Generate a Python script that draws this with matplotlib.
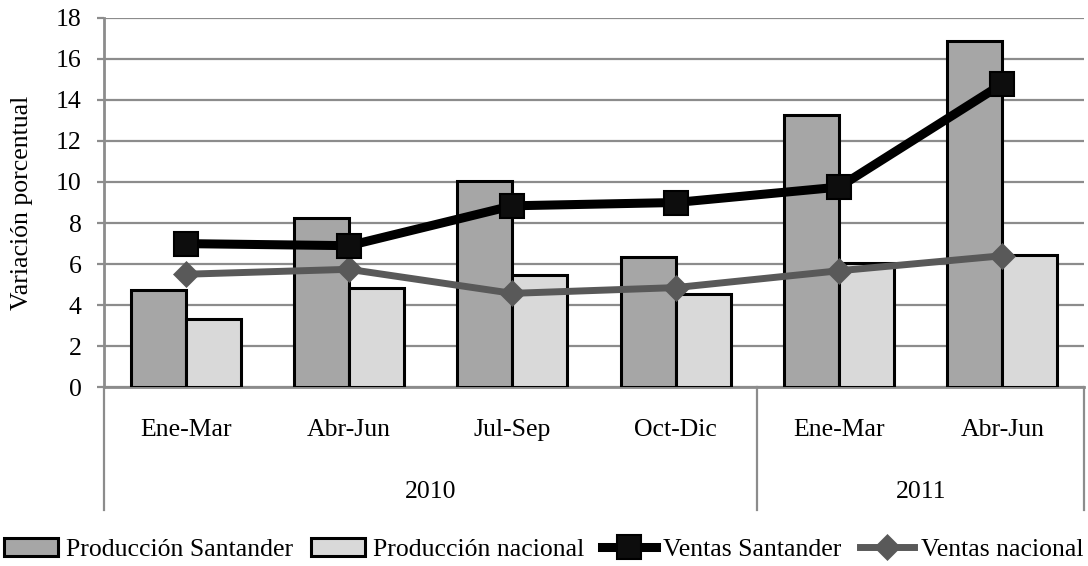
import numpy as np
import matplotlib
matplotlib.use("Agg")
import matplotlib.pyplot as plt
import matplotlib.transforms as mtransforms

# data
quarters = ["Ene-Mar", "Abr-Jun", "Jul-Sep", "Oct-Dic", "Ene-Mar", "Abr-Jun"]
years = ["2010", "2011"]
year_counts = [4, 2]
prod_santander = [4.75, 8.23, 10.05, 6.36, 13.26, 16.86]
prod_nacional = [3.32, 4.83, 5.47, 4.55, 6.07, 6.45]
ventas_santander = [7.0, 6.9, 8.84, 9.0, 9.75, 14.77]
ventas_nacional = [5.51, 5.75, 4.58, 4.86, 5.68, 6.41]

plt.rcParams['font.family'] = ['Liberation Serif', 'DejaVu Serif']
plt.rcParams['font.size'] = 18.5

grid_col = '#8c8c8c'

fig = plt.figure(figsize=(10.88, 5.66), dpi=100)
ax = fig.add_axes([0.0956, 0.3154, 0.9007, 0.6536])

x = np.arange(len(quarters))
w = 0.337
b1 = ax.bar(x - w / 2, prod_santander, w, color='#a6a6a6', edgecolor='black',
            linewidth=2.2, zorder=3, label='Producción Santander')
b2 = ax.bar(x + w / 2, prod_nacional, w, color='#d9d9d9', edgecolor='black',
            linewidth=2.2, zorder=3, label='Producción nacional')
l1, = ax.plot(x, ventas_santander, color='black', lw=6.5, marker='s', ms=17,
              markerfacecolor='#0d0d0d', markeredgecolor='black', mew=1.5,
              zorder=5, label='Ventas Santander')
l2, = ax.plot(x, ventas_nacional, color='#595959', lw=5, marker='D', ms=13.5,
              markerfacecolor='#595959', markeredgecolor='#595959', mew=0.5,
              zorder=4, label='Ventas nacional')

ax.set_xlim(-0.5, len(quarters) - 0.5)
ax.set_ylim(0, 18)
ax.set_yticks(np.arange(0, 19, 2))
ax.yaxis.grid(True, color=grid_col, lw=1.6, zorder=0)
ax.set_axisbelow(True)

for s in ['top', 'right']:
    ax.spines[s].set_visible(False)
for s in ['left', 'bottom']:
    ax.spines[s].set_color(grid_col)
    ax.spines[s].set_linewidth(2)
ax.tick_params(axis='y', length=5, width=1.6, color=grid_col, pad=11)
ax.tick_params(axis='x', length=0, labelbottom=False)

ax.set_ylabel('Variación porcentual', va='center')
ax.yaxis.set_label_coords(-0.0837, 0.5)

# multi-level category axis
trans = mtransforms.blended_transform_factory(ax.transData, ax.transAxes)
for i, q in enumerate(quarters):
    ax.text(i, -0.131, q, transform=trans, ha='center', va='baseline')

start = -0.5
ax.plot([start, start], [0, -0.331], transform=trans, color=grid_col,
        lw=1.6, clip_on=False)
for yr, n in zip(years, year_counts):
    end = start + n
    ax.plot([end, end], [0, -0.331], transform=trans, color=grid_col,
            lw=1.6, clip_on=False)
    ax.text((start + end) / 2, -0.30, yr, transform=trans, ha='center',
            va='baseline')
    start = end

fig.legend([b1, b2, l1, l2],
           ['Producción Santander', 'Producción nacional',
            'Ventas Santander', 'Ventas nacional'],
           loc='center', bbox_to_anchor=(0.5, 0.03), ncol=4, frameon=False,
           handlelength=2.1, handletextpad=0.3, columnspacing=0.7,
           borderaxespad=0)

fig.savefig('out.png', dpi=100)
